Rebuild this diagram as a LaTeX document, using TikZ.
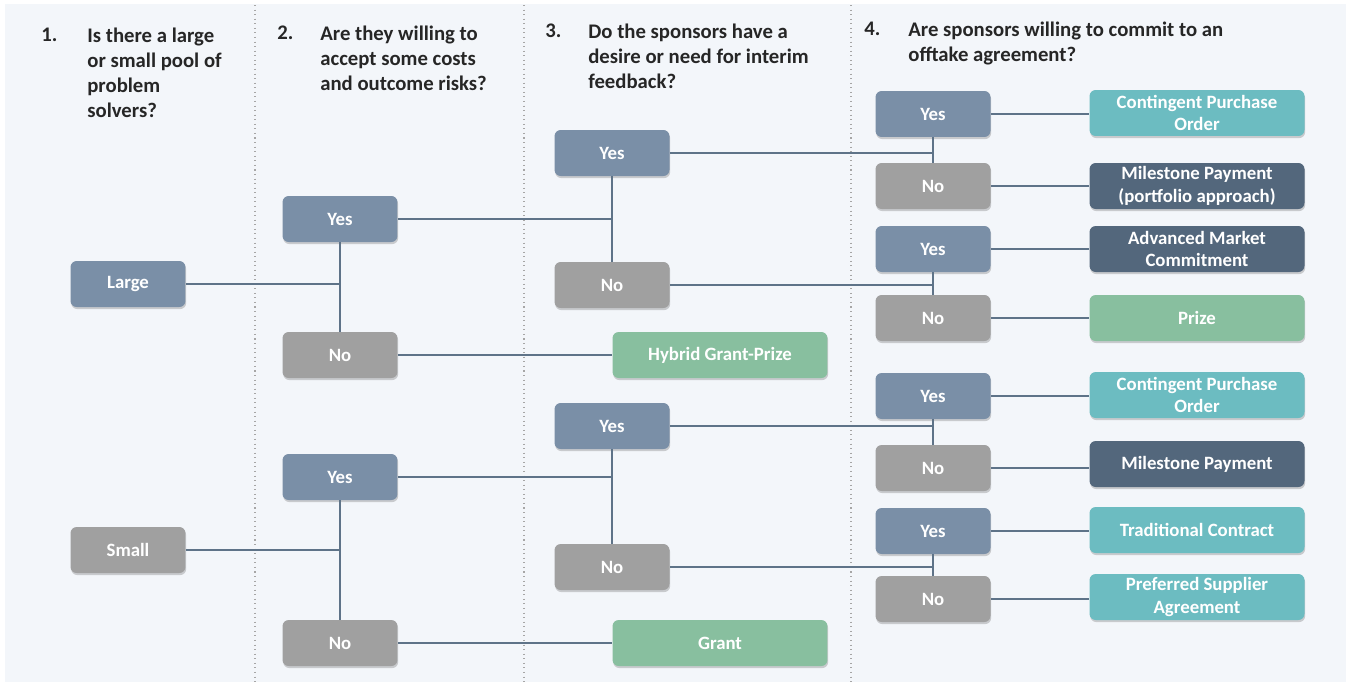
\documentclass[tikz,border=0pt]{standalone}
\usepackage{fontspec}
\setmainfont{Carlito}
\usetikzlibrary{shadows}

\definecolor{bgc}{HTML}{F3F6FA}
\definecolor{headc}{HTML}{262626}
\definecolor{yesc}{HTML}{7A8FA7}
\definecolor{noc}{HTML}{A0A0A0}
\definecolor{tealc}{HTML}{6CBCC1}
\definecolor{slatec}{HTML}{53677C}
\definecolor{greenc}{HTML}{88BF9F}
\definecolor{linec}{HTML}{5E7388}

\tikzset{
    box/.style={rounded corners=3.5pt, minimum width=2.3cm, minimum height=0.92cm,
        text=white, align=center, inner sep=1pt,
        font=\bfseries\fontsize{10.7}{13}\selectfont,
        drop shadow={shadow xshift=0.4pt, shadow yshift=-1.2pt, opacity=0.3, fill=black!60}},
    yesbox/.style={box, fill=yesc},
    nobox/.style={box, fill=noc},
    outbox/.style={box, minimum width=4.3cm},
    link/.style={draw=linec, line width=0.7pt},
    head/.style={anchor=north west, align=left, inner sep=0pt, text=headc,
        font=\bfseries\fontsize{11.8}{14.2}\selectfont},
    divider/.style={draw=gray!70, dotted, line width=0.6pt},
}

\begin{document}
\begin{tikzpicture}[x=0.02cm, y=-0.02cm]
    	        % Canvas
    	        \useasboundingbox (0,0) rectangle (1351,683);
    	        \fill[bgc] (5,4) rectangle (1346,682);
    	        % Column dividers
    	        \draw[divider] (255,5) -- (255,682);
    	        \draw[divider] (524,5) -- (524,682);
    	        \draw[divider] (851,5) -- (851,682);
    	        % Questions
    	        \node[head] (num1) at (41,28) {1.};
    	        \node[head] (q1) at (87,28) {Is there a large\\or small pool of\\problem\\solvers?};
    	        \node[head] (num2) at (277,26) {2.};
    	        \node[head] (q2) at (320,26) {Are they willing to\\accept some costs\\and outcome risks?};
    	        \node[head] (num3) at (545,24) {3.};
    	        \node[head] (q3) at (588,24) {Do the sponsors have a\\desire or need for interim\\feedback?};
    	        \node[head] (num4) at (864,22) {4.};
    	        \node[head] (q4) at (908,22) {Are sponsors willing to commit to an\\offtake agreement?};
    	        % Column 1
    	        \node[yesbox] (large) at (128,284) {Large};
    	        \node[nobox] (small) at (128,550) {Small};
    	        % Column 2
    	        \node[yesbox] (yesA) at (340,219) {Yes};
    	        \node[nobox] (noA) at (340,355) {No};
    	        \node[yesbox] (yesB) at (340,477) {Yes};
    	        \node[nobox] (noB) at (340,643) {No};
    	        % Column 3
    	        \node[yesbox] (yesAA) at (612,153) {Yes};
    	        \node[nobox] (noAA) at (612,285) {No};
    	        \node[outbox, fill=greenc] (hybrid) at (720,355) {Hybrid Grant-Prize};
    	        \node[yesbox] (yesBA) at (612,426) {Yes};
    	        \node[nobox] (noBA) at (612,567) {No};
    	        \node[outbox, fill=greenc] (grant) at (720,643) {Grant};
    	        % Column 4
    	        \node[yesbox] (yes1) at (933,114) {Yes};
    	        \node[nobox] (no1) at (933,186) {No};
    	        \node[yesbox] (yes2) at (933,249) {Yes};
    	        \node[nobox] (no2) at (933,318) {No};
    	        \node[yesbox] (yes3) at (933,396) {Yes};
    	        \node[nobox] (no3) at (933,468) {No};
    	        \node[yesbox] (yes4) at (933,531) {Yes};
    	        \node[nobox] (no4) at (933,599) {No};
    	        % Outcomes
    	        \node[outbox, fill=tealc] (cpoA) at (1197,113) {Contingent Purchase\\Order};
    	        \node[outbox, fill=slatec] (milA) at (1197,186) {Milestone Payment\\(portfolio approach)};
    	        \node[outbox, fill=slatec] (amc) at (1197,249) {Advanced Market\\Commitment};
    	        \node[outbox, fill=greenc] (prize) at (1197,318) {Prize};
    	        \node[outbox, fill=tealc] (cpoB) at (1197,395) {Contingent Purchase\\Order};
    	        \node[outbox, fill=slatec] (milB) at (1197,464) {Milestone Payment};
    	        \node[outbox, fill=tealc] (trad) at (1197,530) {Traditional Contract};
    	        \node[outbox, fill=tealc] (pref) at (1197,597) {Preferred Supplier\\Agreement};
    	        % Links: pool size
    	        \draw[link] (yesA.south) -- (noA.north);
    	        \draw[link] (large.east) -- (large.east -| yesA.south);
    	        \draw[link] (yesB.south) -- (noB.north);
    	        \draw[link] (small.east) -- (small.east -| yesB.south);
    	        % Links: risks
    	        \draw[link] (yesAA.south) -- (noAA.north);
    	        \draw[link] (yesA.east) -- (yesA.east -| yesAA.south);
    	        \draw[link] (noA.east) -- (noA.east -| hybrid.west);
    	        \draw[link] (yesBA.south) -- (noBA.north);
    	        \draw[link] (yesB.east) -- (yesB.east -| yesBA.south);
    	        \draw[link] (noB.east) -- (noB.east -| grant.west);
    	        % Links: feedback
    	        \draw[link] (yes1.south) -- (no1.north);
    	        \draw[link] (yesAA.east) -- (yesAA.east -| yes1.south);
    	        \draw[link] (yes2.south) -- (no2.north);
    	        \draw[link] (noAA.east) -- (noAA.east -| yes2.south);
    	        \draw[link] (yes3.south) -- (no3.north);
    	        \draw[link] (yesBA.east) -- (yesBA.east -| yes3.south);
    	        \draw[link] (yes4.south) -- (no4.north);
    	        \draw[link] (noBA.east) -- (noBA.east -| yes4.south);
    	        % Links: offtake
    	        \draw[link] (yes1.east) -- (yes1.east -| cpoA.west);
    	        \draw[link] (no1.east) -- (no1.east -| milA.west);
    	        \draw[link] (yes2.east) -- (yes2.east -| amc.west);
    	        \draw[link] (no2.east) -- (no2.east -| prize.west);
    	        \draw[link] (yes3.east) -- (yes3.east -| cpoB.west);
    	        \draw[link] (no3.east) -- (no3.east -| milB.west);
    	        \draw[link] (yes4.east) -- (yes4.east -| trad.west);
    	        \draw[link] (no4.east) -- (no4.east -| pref.west);
    	    \end{tikzpicture}
\end{document}
